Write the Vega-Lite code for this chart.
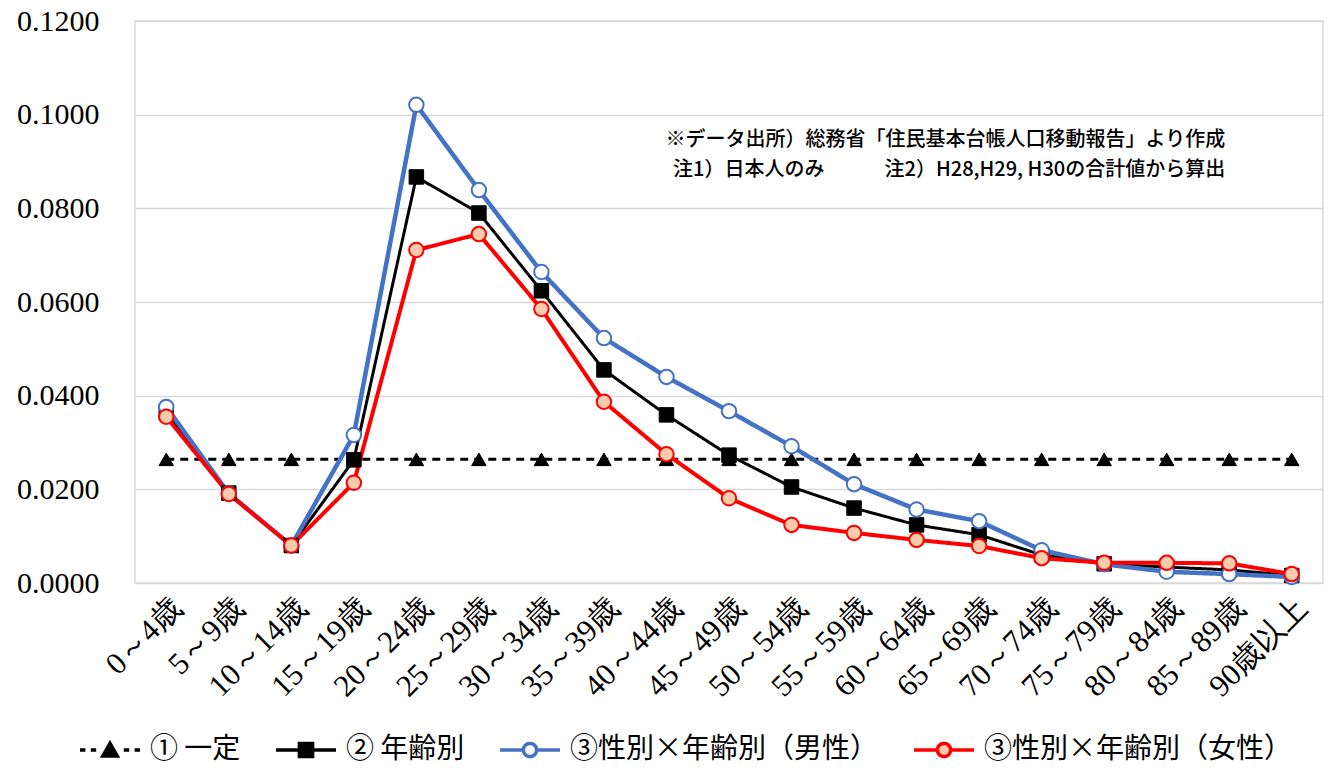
{
  "$schema": "https://vega.github.io/schema/vega-lite/v6.json",
  "width": 1188,
  "height": 562,
  "autosize": {"type": "none"},
  "padding": {"left": 135, "top": 21, "right": 8, "bottom": 189},
  "background": "white",
  "config": {
    "view": {"stroke": "#D9D9D9", "strokeWidth": 1.5},
    "font": "Liberation Serif"
  },
  "datasets": {
    "main": [
      {"age": "0～4歳", "series": "① 一定", "value": 0.0264},
      {"age": "5～9歳", "series": "① 一定", "value": 0.0264},
      {"age": "10～14歳", "series": "① 一定", "value": 0.0264},
      {"age": "15～19歳", "series": "① 一定", "value": 0.0264},
      {"age": "20～24歳", "series": "① 一定", "value": 0.0264},
      {"age": "25～29歳", "series": "① 一定", "value": 0.0264},
      {"age": "30～34歳", "series": "① 一定", "value": 0.0264},
      {"age": "35～39歳", "series": "① 一定", "value": 0.0264},
      {"age": "40～44歳", "series": "① 一定", "value": 0.0264},
      {"age": "45～49歳", "series": "① 一定", "value": 0.0264},
      {"age": "50～54歳", "series": "① 一定", "value": 0.0264},
      {"age": "55～59歳", "series": "① 一定", "value": 0.0264},
      {"age": "60～64歳", "series": "① 一定", "value": 0.0264},
      {"age": "65～69歳", "series": "① 一定", "value": 0.0264},
      {"age": "70～74歳", "series": "① 一定", "value": 0.0264},
      {"age": "75～79歳", "series": "① 一定", "value": 0.0264},
      {"age": "80～84歳", "series": "① 一定", "value": 0.0264},
      {"age": "85～89歳", "series": "① 一定", "value": 0.0264},
      {"age": "90歳以上", "series": "① 一定", "value": 0.0264},

      {"age": "0～4歳", "series": "② 年齢別", "value": 0.0365},
      {"age": "5～9歳", "series": "② 年齢別", "value": 0.0192},
      {"age": "10～14歳", "series": "② 年齢別", "value": 0.0080},
      {"age": "15～19歳", "series": "② 年齢別", "value": 0.0263},
      {"age": "20～24歳", "series": "② 年齢別", "value": 0.0867},
      {"age": "25～29歳", "series": "② 年齢別", "value": 0.0790},
      {"age": "30～34歳", "series": "② 年齢別", "value": 0.0624},
      {"age": "35～39歳", "series": "② 年齢別", "value": 0.0455},
      {"age": "40～44歳", "series": "② 年齢別", "value": 0.0359},
      {"age": "45～49歳", "series": "② 年齢別", "value": 0.0273},
      {"age": "50～54歳", "series": "② 年齢別", "value": 0.0205},
      {"age": "55～59歳", "series": "② 年齢別", "value": 0.0160},
      {"age": "60～64歳", "series": "② 年齢別", "value": 0.0124},
      {"age": "65～69歳", "series": "② 年齢別", "value": 0.0103},
      {"age": "70～74歳", "series": "② 年齢別", "value": 0.0060},
      {"age": "75～79歳", "series": "② 年齢別", "value": 0.0041},
      {"age": "80～84歳", "series": "② 年齢別", "value": 0.0034},
      {"age": "85～89歳", "series": "② 年齢別", "value": 0.0028},
      {"age": "90歳以上", "series": "② 年齢別", "value": 0.0016},

      {"age": "0～4歳", "series": "③性別×年齢別（男性）", "value": 0.0376},
      {"age": "5～9歳", "series": "③性別×年齢別（男性）", "value": 0.0191},
      {"age": "10～14歳", "series": "③性別×年齢別（男性）", "value": 0.0080},
      {"age": "15～19歳", "series": "③性別×年齢別（男性）", "value": 0.0316},
      {"age": "20～24歳", "series": "③性別×年齢別（男性）", "value": 0.1021},
      {"age": "25～29歳", "series": "③性別×年齢別（男性）", "value": 0.0839},
      {"age": "30～34歳", "series": "③性別×年齢別（男性）", "value": 0.0664},
      {"age": "35～39歳", "series": "③性別×年齢別（男性）", "value": 0.0523},
      {"age": "40～44歳", "series": "③性別×年齢別（男性）", "value": 0.0440},
      {"age": "45～49歳", "series": "③性別×年齢別（男性）", "value": 0.0367},
      {"age": "50～54歳", "series": "③性別×年齢別（男性）", "value": 0.0292},
      {"age": "55～59歳", "series": "③性別×年齢別（男性）", "value": 0.0211},
      {"age": "60～64歳", "series": "③性別×年齢別（男性）", "value": 0.0157},
      {"age": "65～69歳", "series": "③性別×年齢別（男性）", "value": 0.0132},
      {"age": "70～74歳", "series": "③性別×年齢別（男性）", "value": 0.0070},
      {"age": "75～79歳", "series": "③性別×年齢別（男性）", "value": 0.0040},
      {"age": "80～84歳", "series": "③性別×年齢別（男性）", "value": 0.0024},
      {"age": "85～89歳", "series": "③性別×年齢別（男性）", "value": 0.0019},
      {"age": "90歳以上", "series": "③性別×年齢別（男性）", "value": 0.0013},

      {"age": "0～4歳", "series": "③性別×年齢別（女性）", "value": 0.0355},
      {"age": "5～9歳", "series": "③性別×年齢別（女性）", "value": 0.0190},
      {"age": "10～14歳", "series": "③性別×年齢別（女性）", "value": 0.0080},
      {"age": "15～19歳", "series": "③性別×年齢別（女性）", "value": 0.0214},
      {"age": "20～24歳", "series": "③性別×年齢別（女性）", "value": 0.0711},
      {"age": "25～29歳", "series": "③性別×年齢別（女性）", "value": 0.0745},
      {"age": "30～34歳", "series": "③性別×年齢別（女性）", "value": 0.0585},
      {"age": "35～39歳", "series": "③性別×年齢別（女性）", "value": 0.0387},
      {"age": "40～44歳", "series": "③性別×年齢別（女性）", "value": 0.0275},
      {"age": "45～49歳", "series": "③性別×年齢別（女性）", "value": 0.0181},
      {"age": "50～54歳", "series": "③性別×年齢別（女性）", "value": 0.0124},
      {"age": "55～59歳", "series": "③性別×年齢別（女性）", "value": 0.0107},
      {"age": "60～64歳", "series": "③性別×年齢別（女性）", "value": 0.0092},
      {"age": "65～69歳", "series": "③性別×年齢別（女性）", "value": 0.0079},
      {"age": "70～74歳", "series": "③性別×年齢別（女性）", "value": 0.0053},
      {"age": "75～79歳", "series": "③性別×年齢別（女性）", "value": 0.0043},
      {"age": "80～84歳", "series": "③性別×年齢別（女性）", "value": 0.0043},
      {"age": "85～89歳", "series": "③性別×年齢別（女性）", "value": 0.0042},
      {"age": "90歳以上", "series": "③性別×年齢別（女性）", "value": 0.0019}
    ],
    "notes": [
      {"age": "85～89歳", "value": 0.0946, "label": "※データ出所）総務省「住民基本台帳人口移動報告」より作成"},
      {"age": "85～89歳", "value": 0.0882, "label": "注1）日本人のみ　　　注2）H28,H29, H30の合計値から算出"}
    ]
  },
  "encoding": {
    "x": {
      "field": "age",
      "type": "nominal",
      "sort": ["0～4歳","5～9歳","10～14歳","15～19歳","20～24歳","25～29歳","30～34歳","35～39歳","40～44歳","45～49歳","50～54歳","55～59歳","60～64歳","65～69歳","70～74歳","75～79歳","80～84歳","85～89歳","90歳以上"],
      "scale": {"type": "point", "padding": 0.5},
      "axis": {
        "title": null,
        "labelAngle": -45,
        "labelFont": "Liberation Serif",
        "labelFontSize": 31,
        "labelColor": "black",
        "labelPadding": 10,
        "ticks": false,
        "domain": false,
        "grid": false,
        "labelLimit": 0
      }
    },
    "y": {
      "field": "value",
      "type": "quantitative",
      "scale": {"domain": [0, 0.12], "nice": false},
      "axis": {
        "title": null,
        "values": [0, 0.02, 0.04, 0.06, 0.08, 0.1, 0.12],
        "format": ".4f",
        "labelFont": "Liberation Serif",
        "labelFontSize": 30,
        "labelColor": "black",
        "labelPadding": 36,
        "ticks": false,
        "domain": false,
        "gridColor": "#D9D9D9",
        "gridWidth": 1.5
      }
    }
  },
  "layer": [
    {
      "data": {"name": "main"},
      "mark": {"type": "line"},
      "encoding": {
        "stroke": {
          "field": "series",
          "type": "nominal",
          "scale": {
            "domain": ["① 一定", "② 年齢別", "③性別×年齢別（男性）", "③性別×年齢別（女性）"],
            "range": ["black", "black", "#4472C4", "#FF0000"]
          },
          "legend": {
            "title": null,
            "orient": "none",
            "legendX": -57,
            "legendY": 697,
            "direction": "horizontal",
            "symbolSize": 3600,
            "symbolStrokeWidth": 3,
            "labelFont": "Noto Sans CJK JP",
            "labelFontSize": 28,
            "labelColor": "black",
            "labelOffset": 8,
            "labelLimit": 0,
            "columnPadding": 28,
            "encode": {
              "symbols": {
                "update": {
                  "shape": {"signal": "datum.value === '① 一定' ? 'M-1,0H-0.82M-0.64,0H-0.46M0.46,0H0.64M0.82,0H1M-0.24,0.2L0,-0.22L0.24,0.2Z' : datum.value === '② 年齢別' ? 'M-1,0H1M-0.22,-0.22H0.22V0.22H-0.22Z' : 'M-1,0H-0.22M0.22,0H1M-0.22,0A0.22,0.22,0,1,0,0.22,0A0.22,0.22,0,1,0,-0.22,0Z'"},
                  "fill": {"signal": "datum.value === '③性別×年齢別（男性）' ? 'white' : datum.value === '③性別×年齢別（女性）' ? '#F8CBAD' : 'black'"},
                  "stroke": {"signal": "datum.value === '③性別×年齢別（男性）' ? '#4472C4' : datum.value === '③性別×年齢別（女性）' ? '#FF0000' : 'black'"},
                  "strokeWidth": {"value": 3.5},
                  "strokeDash": {"value": [1, 0]},
                  "opacity": {"value": 1}
                }
              }
            }
          }
        },
        "strokeWidth": {
          "condition": [
            {"test": "datum.series === '③性別×年齢別（男性）'", "value": 4.5},
            {"test": "datum.series === '③性別×年齢別（女性）'", "value": 4}
          ],
          "value": 3
        },
        "strokeDash": {
          "condition": {"test": "datum.series === '① 一定'", "value": [8, 6]},
          "value": [1, 0]
        }
      }
    },
    {
      "data": {"name": "main"},
      "mark": {"type": "point", "filled": false, "size": 210, "opacity": 1},
      "encoding": {
        "stroke": {"field": "series", "type": "nominal", "legend": null},
        "fill": {
          "condition": [
            {"test": "datum.series === '③性別×年齢別（男性）'", "value": "white"},
            {"test": "datum.series === '③性別×年齢別（女性）'", "value": "#F8CBAD"}
          ],
          "value": "black"
        },
        "shape": {
          "condition": [
            {"test": "datum.series === '① 一定'", "value": "triangle-up"},
            {"test": "datum.series === '② 年齢別'", "value": "square"}
          ],
          "value": "circle"
        },
        "strokeWidth": {
          "condition": {"test": "datum.series === '③性別×年齢別（男性）' || datum.series === '③性別×年齢別（女性）'", "value": 2},
          "value": 1
        }
      }
    },
    {
      "data": {"name": "notes"},
      "mark": {"type": "text", "align": "right", "baseline": "middle", "font": "Noto Sans CJK JP", "fontSize": 20, "fontWeight": 500, "color": "black", "dx": -4},
      "encoding": {
        "text": {"field": "label"}
      }
    }
  ]
}
